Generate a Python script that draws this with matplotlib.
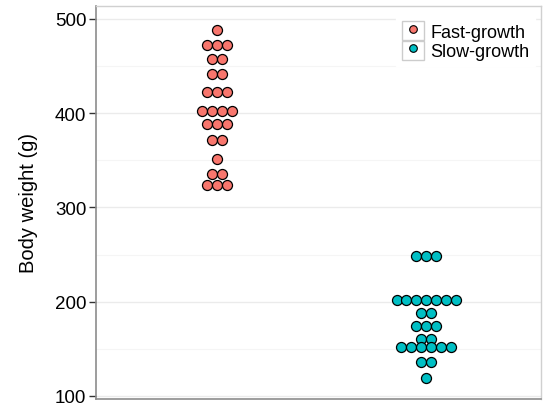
import matplotlib
matplotlib.use("Agg")
import matplotlib.pyplot as plt
from matplotlib.lines import Line2D
from matplotlib.patches import Patch
from matplotlib.legend_handler import HandlerTuple
import numpy as np
from collections import Counter

plt.rcParams["font.family"] = ["Liberation Sans", "DejaVu Sans"]

groups = ["Fast-growth", "Slow-growth"]
fast_growth = [488, 472, 472, 472, 458, 458, 442, 442, 423, 423, 423,
               402, 402, 402, 402, 389, 389, 389, 372, 372,
               351, 335, 335, 324, 324, 324]
slow_growth = [248, 248, 248, 202, 202, 202, 202, 202, 202, 202,
               188, 188, 174, 174, 174, 160, 160,
               152, 152, 152, 152, 152, 152, 136, 136, 119]
colors = ["#F8766D", "#00BFC4"]
yticks = [100, 200, 300, 400, 500]

fig = plt.figure(figsize=(5.43, 4.06), dpi=100)
ax = fig.add_axes([0.1768, 0.0148, 0.8195, 0.968])

dot_w = 0.047  # dot width in x data units
for xpos, (vals, col) in enumerate(zip([fast_growth, slow_growth], colors), start=1):
    counts = Counter(vals)
    xs, ys = [], []
    for v, n in counts.items():
        offs = (np.arange(n) - (n - 1) / 2) * dot_w
        xs.extend(xpos + offs)
        ys.extend([v] * n)
    ax.scatter(xs, ys, s=52, color=col, edgecolor="black", linewidth=0.9, zorder=3)

ax.set_xlim(0.421, 2.55)
ax.set_ylim(96.8, 513.8)
ax.set_yticks(yticks)
ax.set_yticks([150, 250, 350, 450], minor=True)
ax.set_xticks([])
ax.tick_params(axis="y", which="major", labelsize=13.5, length=5, width=1, color="#333333", pad=2)
ax.tick_params(axis="y", which="minor", length=0)
ax.grid(True, axis="y", which="major", color="#EBEBEB", linewidth=1)
ax.grid(True, axis="y", which="minor", color="#F5F5F5", linewidth=0.8)
ax.set_axisbelow(True)
ax.set_ylabel("Body weight (g)", fontsize=14.5, labelpad=12)

for side in ["top", "right"]:
    ax.spines[side].set_color("#D0D0D0")
    ax.spines[side].set_linewidth(1)
for side in ["left", "bottom"]:
    ax.spines[side].set_color("#8C8C8C")
    ax.spines[side].set_linewidth(1.2)

handles = []
for col in colors:
    box = Patch(facecolor="white", edgecolor="#CCCCCC", linewidth=1)
    dot = Line2D([], [], marker="o", linestyle="none", markersize=5.5,
                 markerfacecolor=col, markeredgecolor="black", markeredgewidth=0.8)
    handles.append((box, dot))
leg = ax.legend(handles, groups, handler_map={tuple: HandlerTuple(ndivide=1, pad=0)},
                loc="upper right", bbox_to_anchor=(0.995, 0.985), fontsize=13,
                frameon=True, framealpha=1, edgecolor="white", fancybox=False,
                handlelength=1.25, handleheight=1.25, handletextpad=0.35,
                labelspacing=0.0, borderpad=0.3, borderaxespad=0.2)

fig.savefig("out.png", dpi=100)
